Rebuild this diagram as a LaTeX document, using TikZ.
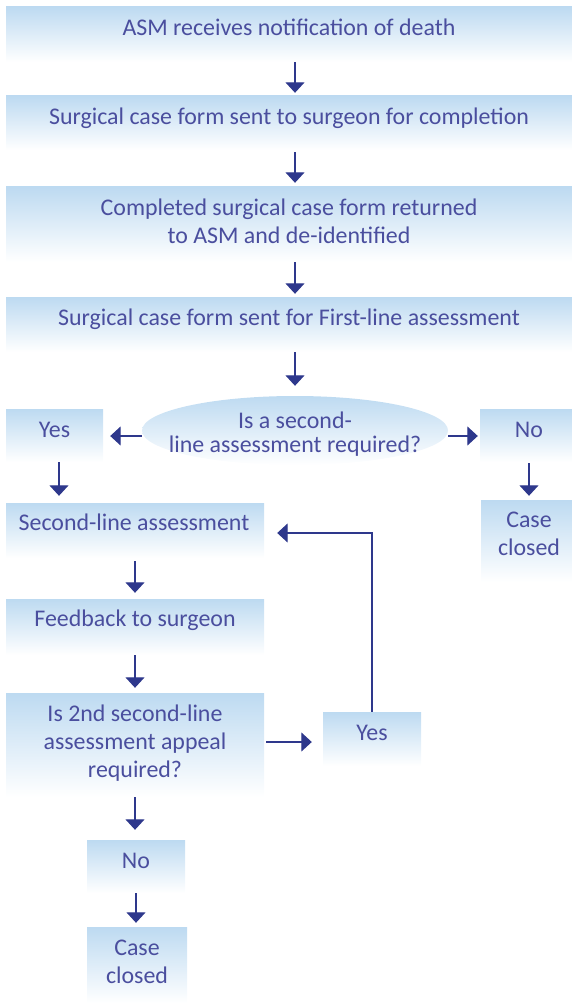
\documentclass[tikz,border=0pt]{standalone}
\usepackage{fontspec}
\setmainfont{Carlito}
\usetikzlibrary{arrows.meta,shapes.geometric}
\definecolor{txtc}{HTML}{4A4E9E}
\definecolor{arrc}{HTML}{2E388C}
\definecolor{boxc}{HTML}{BDDAF1}
\begin{document}
\begin{tikzpicture}[x=1pt,y=-1pt,
  box/.style={rectangle, inner sep=0pt, draw=none, top color=boxc, middle color=boxc!45!white, bottom color=white},
  ellbox/.style={ellipse, inner sep=0pt, draw=none, top color=boxc, middle color=boxc!50!white, bottom color=white},
  txt/.style={anchor=north, inner sep=0pt, align=center, text=txtc, font=\fontsize{23.9}{28}\selectfont},
  etxt/.style={anchor=north, inner sep=0pt, align=center, text=txtc, font=\fontsize{23.9}{21.6}\selectfont},
  arr/.style={draw=arrc, line width=1.3pt, -{Triangle[width=19pt,length=10.5pt]}}]
\useasboundingbox (0,0) rectangle (572,1003);
% boxes
\node[box, minimum width=566pt, minimum height=55pt] (b1) at (289,34.5) {};
\node[box, minimum width=566pt, minimum height=54pt] (b2) at (289,123) {};
\node[box, minimum width=566pt, minimum height=75pt] (b3) at (289,224.5) {};
\node[box, minimum width=566pt, minimum height=55pt] (b4) at (289,324.5) {};
\node[ellbox, minimum width=306pt, minimum height=69pt] (ell) at (295,430.5) {};
\node[box, minimum width=97pt, minimum height=53pt] (yes1) at (54.5,435.5) {};
\node[box, minimum width=92pt, minimum height=53pt] (no1) at (526,435.5) {};
\node[box, minimum width=91pt, minimum height=82pt] (cc1) at (526.5,541) {};
\node[box, minimum width=258pt, minimum height=55pt] (sl) at (135,530.5) {};
\node[box, minimum width=258pt, minimum height=56pt] (fb) at (135,627) {};
\node[box, minimum width=258pt, minimum height=104pt] (q2) at (135,745) {};
\node[box, minimum width=98pt, minimum height=54pt] (yes2) at (372,739) {};
\node[box, minimum width=98pt, minimum height=53pt] (no2) at (136,866.5) {};
\node[box, minimum width=100pt, minimum height=76pt] (cc2) at (137,965) {};
% texts
\node[txt] (t1) at (289,15.4) {\strut ASM receives notification of death};
\node[txt] (t2) at (289,104.4) {\strut Surgical case form sent to surgeon for completion};
\node[txt] (t3) at (289,195.4) {\strut Completed surgical case form returned\\\strut to ASM and de-identified};
\node[txt] (t4) at (289,305.4) {\strut Surgical case form sent for First-line assessment};
\node[etxt] (tell) at (295,411.6) {\strut Is a second-\\\strut line assessment required?};
\node[txt] (ty1) at (54.5,417.4) {\strut Yes};
\node[txt] (tn1) at (529,417.4) {\strut No};
\node[txt] (tc1) at (529,507.4) {\strut Case\\\strut closed};
\node[txt] (tsl) at (134,510.4) {\strut Second-line assessment};
\node[txt] (tfb) at (135,606.4) {\strut Feedback to surgeon};
\node[txt] (tq2) at (135,701.4) {\strut Is 2nd second-line\\\strut assessment appeal\\\strut required?};
\node[txt] (ty2) at (372,720.4) {\strut Yes};
\node[txt] (tn2) at (136,848.4) {\strut No};
\node[txt] (tc2) at (137,935.4) {\strut Case\\\strut closed};
% connectors
\draw[arr, shorten >=3pt] ([xshift=6pt]b1.south) -- ([xshift=6pt]b2.north);
\draw[arr, shorten <=2pt, shorten >=4pt] ([xshift=6pt]b2.south) -- ([xshift=6pt]b3.north);
\draw[arr, shorten >=3pt] ([xshift=6pt]b3.south) -- ([xshift=6pt]b4.north);
\draw[arr, shorten >=10pt] ([xshift=6pt]b4.south) -- (ell.north);
\draw[arr, shorten >=7pt] ([yshift=-5.5pt]ell.west) -- ([yshift=-5.5pt]ell.west -| yes1.east);
\draw[arr, shorten >=2pt] ([yshift=-5.5pt]ell.east) -- ([yshift=-5.5pt]ell.east -| no1.west);
\draw[arr, shorten >=7pt] ([xshift=4.5pt]yes1.south) -- ([xshift=4.5pt]yes1.south |- sl.north);
\draw[arr, shorten <=1pt, shorten >=4pt] ([xshift=3pt]no1.south) -- ([xshift=3pt]no1.south |- cc1.north);
\draw[arr, shorten <=3pt, shorten >=6pt] (sl.south) -- (fb.north);
\draw[arr, shorten >=5pt] (fb.south) -- (q2.north);
\draw[arr, shorten <=2pt, shorten >=11pt] ([yshift=3pt]q2.east) -- ([yshift=3pt]q2.east -| yes2.west);
\draw[arr, shorten >=13pt] (yes2.north) |- ([yshift=-2.5pt]sl.east);
\draw[arr, shorten >=10pt] (q2.south) -- (q2.south |- no2.north);
\draw[arr, shorten >=4pt] (no2.south) -- (no2.south |- cc2.north);
\end{tikzpicture}
\end{document}
